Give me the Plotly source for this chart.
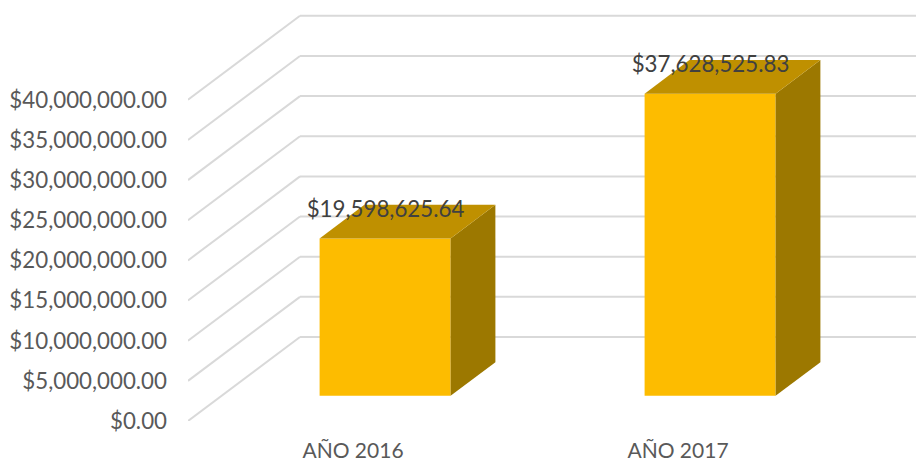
import plotly.graph_objects as go

# Data
categories = ["AÑO 2016", "AÑO 2017"]
values = [19598625.64, 37628525.83]
value_labels = ["$19,598,625.64", "$37,628,525.83"]
tick_values = [0, 5e6, 10e6, 15e6, 20e6, 25e6, 30e6, 35e6, 40e6]
tick_labels = ["$0.00", "$5,000,000.00", "$10,000,000.00", "$15,000,000.00", "$20,000,000.00",
               "$25,000,000.00", "$30,000,000.00", "$35,000,000.00", "$40,000,000.00"]

# Oblique projection of the fake-3D box, expressed in axis units
W, H = 916, 466
PL, PB = 188, 45
X_UNIT = 325.0            # px per category
Y_UNIT = 8.03 / 1e6       # px per dollar
X_ZERO = 353.0            # px of first category
plot_h = H - PB
x_range = [(PL - X_ZERO) / X_UNIT, (W - X_ZERO) / X_UNIT]
y_range = [0, plot_h / Y_UNIT]
WALL_DX, WALL_DY = 112 / X_UNIT, 84 / Y_UNIT   # full floor depth
BAR_D0, BAR_D1 = 0.30, 0.70                    # bar's depth inside the floor
BAR_W = 131 / X_UNIT
BAR_SHIFT = -1.5 / X_UNIT


def proj(x, y, d):
    return x + d * WALL_DX, y + d * WALL_DY


GRID = "#D9D9D9"
FRONT, TOP, SIDE = "#FDBC00", "#BF9000", "#9C7800"

fig = go.Figure()

# Front faces
xs = list(range(len(categories)))
x_front = [proj(x + BAR_SHIFT, 0, BAR_D0)[0] for x in xs]
base = proj(0, 0, BAR_D0)[1]
fig.add_trace(go.Bar(x=x_front, y=values, base=[base] * len(values), width=BAR_W,
                     marker=dict(color=FRONT, line=dict(width=0)), showlegend=False,
                     hoverinfo="skip"))

# Side and top faces
for x, v in zip(xs, values):
    l, r = x + BAR_SHIFT - BAR_W / 2, x + BAR_SHIFT + BAR_W / 2
    corners = [proj(r, 0, BAR_D0), proj(r, 0, BAR_D1), proj(r, v, BAR_D1), proj(r, v, BAR_D0)]
    fig.add_trace(go.Scatter(x=[c[0] for c in corners], y=[c[1] for c in corners], fill="toself",
                             fillcolor=SIDE, mode="none", showlegend=False, hoverinfo="skip"))
    corners = [proj(l, v, BAR_D0), proj(r, v, BAR_D0), proj(r, v, BAR_D1), proj(l, v, BAR_D1)]
    fig.add_trace(go.Scatter(x=[c[0] for c in corners], y=[c[1] for c in corners], fill="toself",
                             fillcolor=TOP, mode="none", showlegend=False, hoverinfo="skip"))

# Data labels
fig.add_trace(go.Scatter(x=[x + 32.5 / X_UNIT for x in xs],
                         y=[v + base + 27 / Y_UNIT for v in values],
                         text=value_labels, mode="text", textposition="middle center",
                         textfont=dict(family="Lato", size=22.3, color="#404040"),
                         showlegend=False, hoverinfo="skip"))

# Gridlines: floor diagonal, then back wall
for t in tick_values:
    p0 = (x_range[0], t)
    p1 = proj(x_range[0], t, 1)
    fig.add_shape(type="line", x0=p0[0], y0=p0[1], x1=p1[0], y1=p1[1], layer="below",
                  line=dict(color=GRID, width=2))
    fig.add_shape(type="line", x0=p1[0], y0=p1[1], x1=x_range[1], y1=p1[1], layer="below",
                  line=dict(color=GRID, width=2))

fig.update_layout(
    width=W, height=H,
    margin=dict(l=PL, r=0, t=0, b=PB, pad=0),
    paper_bgcolor="white", plot_bgcolor="white",
    showlegend=False,
    font=dict(family="Lato", size=22, color="#595959"),
)
fig.update_xaxes(type="linear", range=x_range, tickmode="array", tickvals=xs, ticktext=categories,
                 showgrid=False, zeroline=False, showline=False, ticks="",
                 ticklabelstandoff=15, tickfont=dict(family="Lato", size=21, color="#595959"))
fig.update_yaxes(range=y_range, tickmode="array", tickvals=tick_values, ticktext=tick_labels,
                 showgrid=False, zeroline=False, showline=False, ticks="",
                 ticklabelstandoff=20, tickfont=dict(family="Lato", size=22.3, color="#595959"))

fig.write_html("out.html", config={"displayModeBar": False},
               post_script="document.body.style.margin='0';")
